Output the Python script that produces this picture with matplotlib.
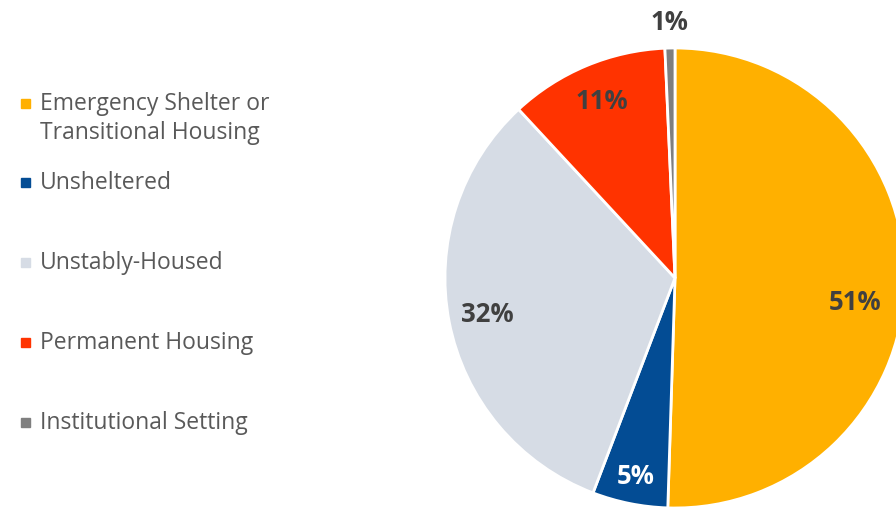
import matplotlib
matplotlib.use("Agg")
import matplotlib.pyplot as plt
import numpy as np

categories = ["Emergency Shelter or\nTransitional Housing", "Unsheltered",
              "Unstably-Housed", "Permanent Housing", "Institutional Setting"]
values = [50.5, 5.3, 32.3, 11.2, 0.7]
labels = ["51%", "5%", "32%", "11%", "1%"]
colors = ["#FFB000", "#034C94", "#D6DCE5", "#FF3300", "#7F7F7F"]
label_colors = ["#404040", "#FFFFFF", "#404040", "#404040", "#404040"]
label_dist = [0.79, 0.88, 0.83, 0.83, 1.11]
label_shift = [-7.0, 0, 0, 0, 0]   # degrees

plt.rcParams['font.family'] = ['Open Sans', 'DejaVu Sans']

W, H = 896, 508
fig = plt.figure(figsize=(W / 100, H / 100), dpi=100)

cx, cy, r = 675, 278, 230
ax = fig.add_axes([(cx - r) / W, (H - cy - r) / H, 2 * r / W, 2 * r / H])
wedges, _ = ax.pie(values, colors=colors, startangle=90, counterclock=False,
                   radius=1.0, wedgeprops=dict(edgecolor="white", linewidth=2))
for w, lab, lc, d, s in zip(wedges, labels, label_colors, label_dist, label_shift):
    ang = np.deg2rad((w.theta1 + w.theta2) / 2 + s)
    ax.text(d * np.cos(ang), d * np.sin(ang), lab, ha="center", va="center",
            fontsize=18.5, fontweight="bold", color=lc)
ax.set_xlim(-1, 1)
ax.set_ylim(-1, 1)
ax.set_aspect("equal")
ax.axis("off")

# legend
legend_y = [104, 183, 263, 343, 423]
line_gap = 29
for cat, col, y in zip(categories, colors, legend_y):
    fig.patches.append(plt.Rectangle((21 / W, (H - y + 1 - 4.5) / H), 9 / W, 9 / H,
                                     transform=fig.transFigure, color=col))
    for i, line in enumerate(cat.split("\n")):
        fig.text(40 / W, (H - y - i * line_gap) / H, line, ha="left", va="center",
                 fontsize=16.5, color="#595959")

fig.savefig("out.png", dpi=100)
